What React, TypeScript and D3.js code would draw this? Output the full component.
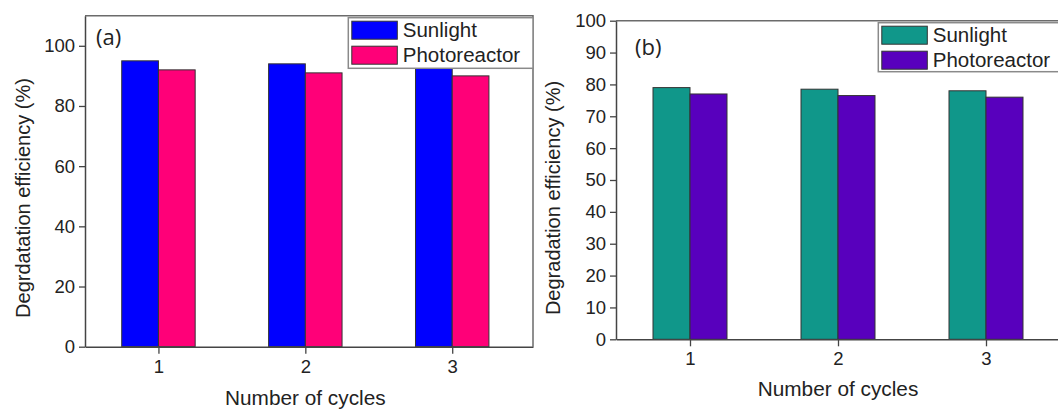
import * as d3 from "d3";
import { useEffect, useRef } from "react";

const cycles = [1, 2, 3];
const sunlightA = [95, 94, 93];
const photoreactorA = [92, 91, 90];
const sunlightB = [79, 78.5, 78];
const photoreactorB = [77, 76.5, 76];
const yTicksA = [0, 20, 40, 60, 80, 100];
const yTicksB = [0, 10, 20, 30, 40, 50, 60, 70, 80, 90, 100];
const legendLabels = ["Sunlight", "Photoreactor"];

type PanelSpec = {
  left: number;
  right: number;
  top: number;
  bottom: number;
  xMax: number;
  yMax: number;
  yTicks: number[];
  series: number[][];
  colors: string[];
  tag: string;
  tagX: number;
  tagY: number;
  yLabel: string;
  yLabelX: number;
  xLabelY: number;
  legend: { x: number; y: number; w: number; h: number };
};

const FONT = "Liberation Sans, Arial, sans-serif";

function drawPanel(root: d3.Selection<SVGGElement, unknown, null, undefined>, p: PanelSpec) {
  const x = d3.scaleLinear().domain([0.5, p.xMax]).range([p.left, p.right]);
  const y = d3.scaleLinear().domain([0, p.yMax]).range([p.bottom, p.top]);
  const barW = 0.25;

  // bars
  p.series.forEach((vals, si) => {
    root
      .append("g")
      .selectAll("rect")
      .data(cycles)
      .join("rect")
      .attr("x", (c) => x(c - barW + si * barW))
      .attr("y", (_, i) => y(vals[i]))
      .attr("width", (c) => x(c + barW) - x(c))
      .attr("height", (_, i) => y(0) - y(vals[i]))
      .attr("fill", p.colors[si])
      .attr("stroke", "#333")
      .attr("stroke-width", 1);
  });

  // frame (top + right)
  root
    .append("path")
    .attr("d", `M${p.left},${p.top}H${p.right}V${p.bottom}`)
    .attr("fill", "none")
    .attr("stroke", "#6b6b6b")
    .attr("stroke-width", 1.5);

  // y axis
  const yAxis = root.append("g").attr("transform", `translate(${p.left},0)`);
  yAxis.call(d3.axisLeft(y).tickValues(p.yTicks).tickSize(6).tickPadding(4).tickSizeOuter(0));
  yAxis.select(".domain").attr("stroke", "#444").attr("stroke-width", 1.5);
  yAxis.selectAll(".tick line").attr("stroke", "#444").attr("stroke-width", 1.3);
  yAxis.selectAll(".tick text").attr("font-family", FONT).attr("font-size", 18.5).attr("fill", "#222");

  // x axis
  const xAxis = root.append("g").attr("transform", `translate(0,${p.bottom})`);
  xAxis.call(d3.axisBottom(x).tickValues(cycles).tickFormat(d3.format("d")).tickSize(7).tickPadding(6).tickSizeOuter(0));
  xAxis.select(".domain").attr("stroke", "#444").attr("stroke-width", 1.5);
  xAxis.selectAll(".tick line").attr("stroke", "#444").attr("stroke-width", 1.3);
  xAxis.selectAll(".tick text").attr("font-family", FONT).attr("font-size", 18.5).attr("fill", "#222");

  // axis titles
  root
    .append("text")
    .attr("transform", `translate(${p.yLabelX},198) rotate(-90)`)
    .attr("text-anchor", "middle")
    .attr("dominant-baseline", "central")
    .attr("font-family", FONT)
    .attr("font-size", 20)
    .attr("fill", "#222")
    .text(p.yLabel);
  root
    .append("text")
    .attr("x", x(2))
    .attr("y", p.xLabelY)
    .attr("text-anchor", "middle")
    .attr("font-family", FONT)
    .attr("font-size", 20.8)
    .attr("fill", "#222")
    .text("Number of cycles");

  // panel tag
  root
    .append("text")
    .attr("x", p.tagX)
    .attr("y", p.tagY)
    .attr("font-family", "Open Sans, sans-serif")
    .attr("font-size", 22)
    .attr("fill", "#222")
    .text(p.tag);

  // legend
  const lg = root.append("g").attr("transform", `translate(${p.legend.x},${p.legend.y})`);
  lg.append("rect")
    .attr("width", p.legend.w)
    .attr("height", p.legend.h)
    .attr("fill", "white")
    .attr("stroke", "#8a8a8a")
    .attr("stroke-width", 1.5);
  legendLabels.forEach((label, i) => {
    lg.append("rect")
      .attr("x", 3.5)
      .attr("y", 3.5 + i * 25)
      .attr("width", 45.5)
      .attr("height", 18)
      .attr("fill", p.colors[i])
      .attr("stroke", "#333")
      .attr("stroke-width", 1);
    lg.append("text")
      .attr("x", 54.5)
      .attr("y", 19.5 + i * 25)
      .attr("font-family", FONT)
      .attr("font-size", 20.5)
      .attr("fill", "#222")
      .text(label);
  });
}

export default function App() {
  const ref = useRef<SVGSVGElement | null>(null);

  useEffect(() => {
    if (!ref.current) return;
    const svg = d3.select(ref.current);
    svg.selectAll("*").remove();
    const root = svg.append("g") as d3.Selection<SVGGElement, unknown, null, undefined>;

    drawPanel(root.append("g"), {
      left: 85,
      right: 533,
      top: 15.7,
      bottom: 346.7,
      xMax: 3.55,
      yMax: 110,
      yTicks: yTicksA,
      series: [sunlightA, photoreactorA],
      colors: ["#0000ff", "#ff0078"],
      tag: "(a)",
      tagX: 96,
      tagY: 45,
      yLabel: "Degrdatation efficiency (%)",
      yLabelX: 23,
      xLabelY: 405,
      legend: { x: 348.3, y: 17.7, w: 184.7, h: 50.6 }
    });

    drawPanel(root.append("g"), {
      left: 616,
      right: 1060,
      top: 20.7,
      bottom: 339.3,
      xMax: 3.5,
      yMax: 100,
      yTicks: yTicksB,
      series: [sunlightB, photoreactorB],
      colors: ["#10978a", "#5800bd"],
      tag: "(b)",
      tagX: 635,
      tagY: 55,
      yLabel: "Degradation efficiency (%)",
      yLabelX: 553,
      xLabelY: 396,
      legend: { x: 878.3, y: 22.7, w: 185, h: 49 }
    });
  }, []);

  return (
    <svg
      ref={ref}
      width={1058}
      height={410}
      viewBox="0 0 1058 410"
      style={{ position: "absolute", left: 0, top: 0, background: "white" }}
    />
  );
}
